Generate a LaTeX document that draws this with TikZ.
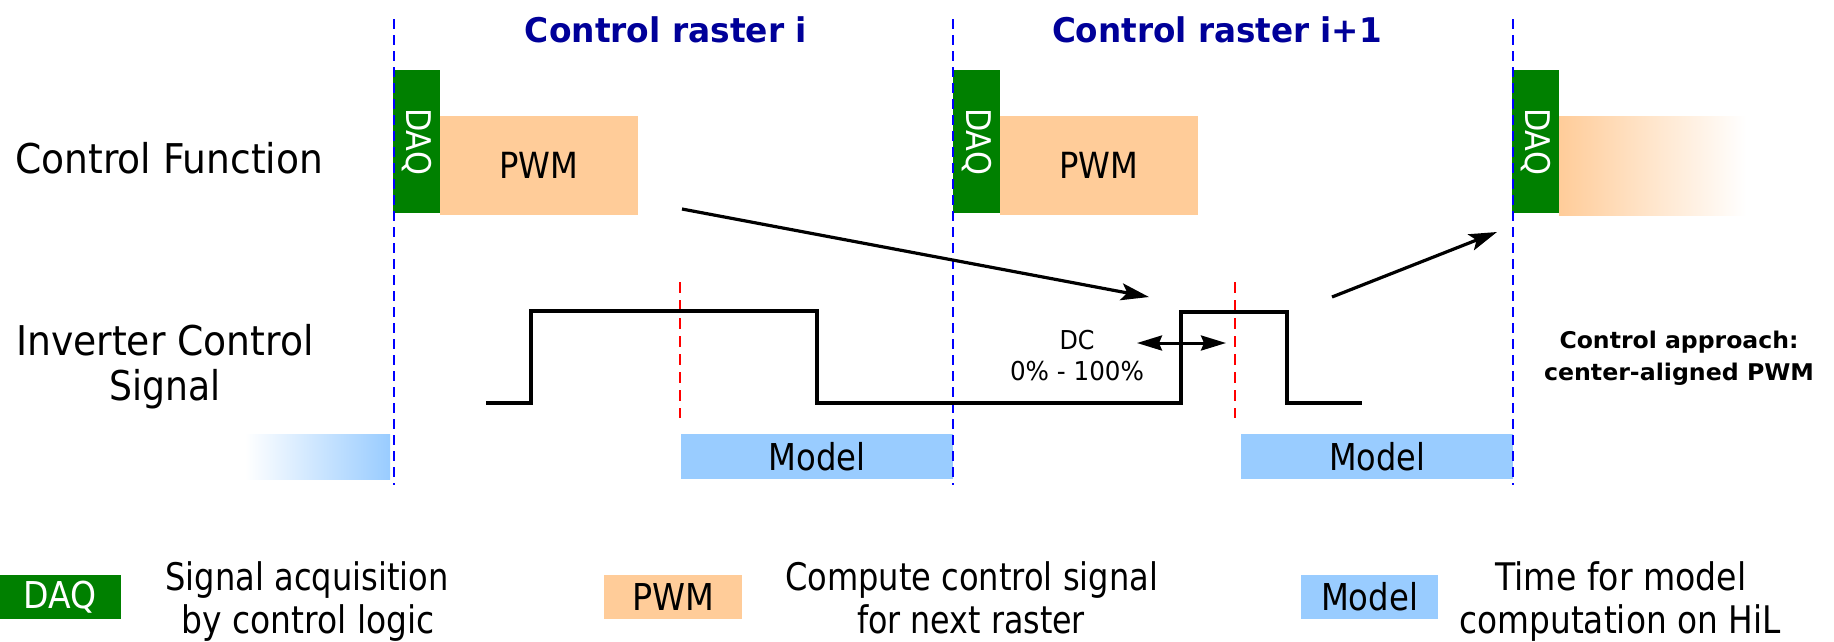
\documentclass[tikz,border=0pt]{standalone}
\usepackage{fontspec}
\setmainfont{DejaVu Sans}
\usepackage{graphicx}
\usetikzlibrary{arrows.meta}
\definecolor{daqgreen}{RGB}{0,128,0}
\definecolor{pwmpeach}{RGB}{255,204,153}
\definecolor{modelblue}{RGB}{153,204,255}
\definecolor{titleblue}{RGB}{0,0,153}
\newcommand\fw[2]{\resizebox{#1pt}{\height}{#2}}
\begin{document}
\begin{tikzpicture}[x=1pt,y=-1pt,
  boxbase/.style={inner sep=0pt, outer sep=0pt, draw=none},
  daqbox/.style={boxbase, fill=daqgreen, text=white, minimum width=47pt, minimum height=143pt, font=\fontsize{34}{40}\selectfont},
  pwmbox/.style={boxbase, fill=pwmpeach, minimum width=198pt, minimum height=99pt, font=\fontsize{36}{42}\selectfont},
  modelbox/.style={boxbase, fill=modelblue, minimum width=272pt, minimum height=45pt, font=\fontsize{37}{42}\selectfont},
  legbox/.style={boxbase, minimum height=44pt, font=\fontsize{37}{42}\selectfont},
  rowlab/.style={inner sep=0pt, font=\fontsize{41}{46}\selectfont},
  ttl/.style={inner sep=0pt, anchor=base, text=titleblue, font=\bfseries\fontsize{34}{40}\selectfont},
  small/.style={inner sep=0pt, anchor=base, font=\fontsize{26}{30}\selectfont},
  note/.style={inner sep=0pt, anchor=base, font=\bfseries\fontsize{23}{28}\selectfont},
  legtxt/.style={inner sep=0pt, anchor=base, font=\fontsize{38}{44}\selectfont},
  rasterline/.style={blue, line width=2.6pt, dash pattern=on 10pt off 6pt},
  midline/.style={red, line width=2.6pt, dash pattern=on 11pt off 7pt},
  sig/.style={black, line width=3.2pt, line join=miter},
  arr/.style={black, line width=3.2pt, -{Stealth[length=28pt,width=17pt,inset=6pt]}},
  dcarr/.style={black, line width=3pt, {Stealth[length=25pt,width=15pt,inset=3pt]}-{Stealth[length=25pt,width=15pt,inset=3pt]}}
]
\useasboundingbox (0,0) rectangle (1834,641);

% titles
\node[ttl] (t1) at (666,42) {\fw{282}{Control raster i}};
\node[ttl] (t2) at (1217,42) {\fw{330}{Control raster i+1}};

% row labels
\node[rowlab, anchor=base west] (cf) at (15,173) {\fw{308}{Control Function}};
\node[rowlab, anchor=base] (ic1) at (165,355) {\fw{298}{Inverter Control}};
\node[rowlab, anchor=base] (ic2) at (165,400) {\fw{111}{Signal}};

% control function boxes
\node[daqbox] (daq1) at (416.5,141.5) {\rotatebox{-90}{\fw{67}{DAQ}}};
\node[pwmbox] (pwm1) at (539,165.5) {\fw{79}{PWM}};
\node[daqbox] (daq2) at (976.5,141.5) {\rotatebox{-90}{\fw{67}{DAQ}}};
\node[pwmbox] (pwm2) at (1098.5,165.5) {\fw{79}{PWM}};
\node[daqbox] (daq3) at (1535.5,141.5) {\rotatebox{-90}{\fw{67}{DAQ}}};
\node[boxbase, minimum width=187pt, minimum height=99pt, left color=pwmpeach, right color=white] (pwm3) at (1652.5,165.5) {};

% model boxes
\node[boxbase, minimum width=145pt, minimum height=45pt, left color=white, right color=modelblue] (model0) at (317.5,456.5) {};
\node[modelbox] (model1) at (817,456.5) {\fw{97}{Model}};
\node[modelbox] (model2) at (1377,456.5) {\fw{96}{Model}};

% raster boundaries
\draw[rasterline] (394,19) -- (394,485);
\draw[rasterline] (953,19) -- (953,485);
\draw[rasterline] (1513,19) -- (1513,485);

% center lines
\draw[midline] (680,282) -- (680,418);
\draw[midline] (1235,282) -- (1235,418);

% inverter control signal
\draw[sig] (486,403) -- (531,403) -- (531,311) -- (817,311) -- (817,403) -- (1181,403) -- (1181,312) -- (1287,312) -- (1287,403) -- (1362,403);

% arrows
\coordinate (a1s) at (682,209);
\coordinate (a1e) at (1149,297);
\coordinate (a2s) at (1332,297);
\coordinate (a2e) at (1497,232);
\coordinate (dcl) at (1137,343);
\coordinate (dcr) at (1226,343);
\draw[arr] (a1s) -- (a1e);
\draw[arr] (a2s) -- (a2e);
\draw[dcarr] (dcl) -- (dcr);

% DC label
\node[small] (dc1) at (1077,349) {\fw{35}{DC}};
\node[small] (dc2) at (1077,380) {\fw{134}{0\% - 100\%}};

% control approach note
\node[note] (ca1) at (1679,348) {\fw{239}{Control approach:}};
\node[note] (ca2) at (1679,380) {\fw{270}{center-aligned PWM}};

% legend
\node[legbox, fill=daqgreen, text=white, minimum width=121pt] (ldaq) at (60.5,597) {\fw{73}{DAQ}};
\node[legtxt] (l1a) at (307,590) {\fw{283}{Signal acquisition}};
\node[legtxt] (l1b) at (308,633) {\fw{253}{by control logic}};
\node[legbox, fill=pwmpeach, minimum width=138pt] (lpwm) at (673,597) {\fw{82}{PWM}};
\node[legtxt] (l2a) at (971.5,590) {\fw{373}{Compute control signal}};
\node[legtxt] (l2b) at (971,633) {\fw{228}{for next raster}};
\node[legbox, fill=modelblue, minimum width=137pt] (lmodel) at (1369.5,597) {\fw{97}{Model}};
\node[legtxt] (l3a) at (1621,590) {\fw{251}{Time for model}};
\node[legtxt] (l3b) at (1620,633) {\fw{321}{computation on HiL}};
\end{tikzpicture}
\end{document}
